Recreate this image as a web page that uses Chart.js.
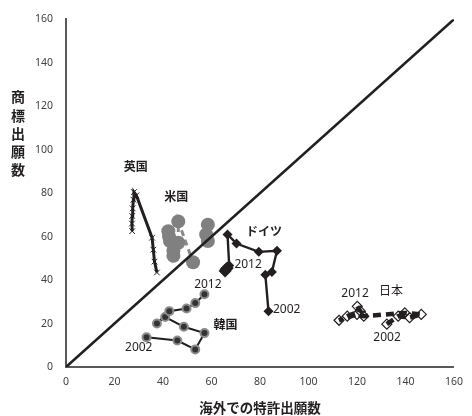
<!DOCTYPE html>
<html>
<head>
<meta charset="utf-8">
<script src="https://cdn.jsdelivr.net/npm/chart.js@4/dist/chart.umd.min.js"></script>
<style>
  html, body { margin: 0; padding: 0; background: #fff; }
  #wrap { width: 472px; height: 416px; }
</style>
</head>
<body>
<div id="wrap"><canvas id="c" width="472" height="416"></canvas></div>
<script>
// Foreign patent filings (x) vs trademark filings (y), 2002–2012
const years = ['2002','2003','2004','2005','2006','2007','2008','2009','2010','2011','2012'];

const ukX = [27.3, 27.2, 27.3, 27.5, 27.8, 28.0, 29.0, 35.5, 36.0, 36.5, 37.5];
const ukY = [62.5, 66.0, 69.5, 73.0, 77.0, 80.5, 79.0, 59.5, 54.0, 48.5, 43.5];

const usX = [42.2, 42.5, 42.9, 44.3, 44.3, 46.3, 46.3, 52.4, 58.5, 57.8, 58.5];
const usY = [62.5, 60.0, 58.0, 53.5, 51.2, 57.2, 67.0, 48.2, 58.0, 61.0, 65.5];

const deX = [83.5, 82.2, 84.9, 87.0, 79.5, 70.3, 66.6, 67.3, 66.5, 65.6, 66.0];
const deY = [25.7, 42.5, 43.7, 53.5, 53.0, 56.8, 61.0, 46.7, 45.5, 44.2, 45.0];

const jpX = [132.3, 137.0, 141.7, 146.5, 139.7, 122.8, 120.0, 112.6, 116.0, 121.4, 120.1];
const jpY = [19.7, 23.4, 22.7, 24.2, 24.9, 23.4, 24.2, 21.5, 23.4, 25.7, 27.9];

const krX = [33.2, 45.9, 53.3, 57.1, 48.6, 40.9, 37.5, 42.6, 49.7, 53.3, 57.1];
const krY = [13.7, 12.2, 8.1, 15.6, 18.5, 23.0, 20.0, 25.7, 26.9, 29.4, 33.5];

const refLine = [0, 160];
const axisTicks = [0, 20, 40, 60, 80, 100, 120, 140, 160];

const pts = (xs, ys) => xs.map((x, i) => ({ x, y: ys[i], year: years[i] }));

// Text annotations placed in data units
const notes = [
  { t: '英国', x: 28.8, y: 92.4, bold: true },
  { t: '米国', x: 45.5, y: 78.4, bold: true },
  { t: 'ドイツ', x: 81.6, y: 62.6, bold: true },
  { t: '日本', x: 134.0, y: 35.2, bold: false },
  { t: '韓国', x: 65.8, y: 19.8, bold: true },
  { t: '2012', x: 75.1, y: 47.3 },
  { t: '2002', x: 91.0, y: 26.6 },
  { t: '2012', x: 58.5, y: 37.9 },
  { t: '2002', x: 30.0, y: 9.0 },
  { t: '2012', x: 119.2, y: 33.8 },
  { t: '2002', x: 132.4, y: 13.5 }
];

const notesPlugin = {
  id: 'notes',
  afterDatasetsDraw(chart) {
    const { ctx, scales: { x, y } } = chart;
    ctx.save();
    ctx.textAlign = 'center';
    ctx.textBaseline = 'middle';
    ctx.fillStyle = '#231f20';
    notes.forEach(n => {
      const isYear = /^\d+$/.test(n.t);
      ctx.font = isYear ? '12px "Noto Sans", "Open Sans", sans-serif'
        : (n.bold ? 'bold 12px "Noto Sans CJK JP", sans-serif' : '12px "Noto Sans CJK JP", sans-serif');
      ctx.fillText(n.t, x.getPixelForValue(n.x), y.getPixelForValue(n.y));
    });
    ctx.restore();
  },
  afterDraw(chart) {
    // vertical stacked y-axis title
    const { ctx } = chart;
    const title = '商標出願数';
    ctx.save();
    ctx.font = 'bold 14px "Noto Sans CJK JP", sans-serif';
    ctx.fillStyle = '#231f20';
    ctx.textAlign = 'center';
    ctx.textBaseline = 'middle';
    const start = 97;
    const step = 18.2;
    [...title].forEach((ch, i) => ctx.fillText(ch, 18, start + i * step));
    ctx.restore();
  }
};

new Chart(document.getElementById('c'), {
  type: 'scatter',
  data: {
    datasets: [
      {
        label: 'ref',
        data: pts(refLine, refLine),
        showLine: true,
        borderColor: '#231f20',
        borderWidth: 2.6,
        pointRadius: 0
      },
      {
        label: 'ドイツ',
        data: pts(deX, deY),
        showLine: true,
        borderColor: '#231f20',
        borderWidth: 2.4,
        backgroundColor: '#231f20',
        pointStyle: 'rectRot',
        pointRadius: ctx => ctx.dataIndex >= 8 ? 6.5 : 5,
        pointBorderWidth: 0
      },
      {
        label: '英国',
        data: pts(ukX, ukY),
        showLine: true,
        borderColor: '#231f20',
        borderWidth: 3,
        pointStyle: 'crossRot',
        pointRadius: 4,
        pointBorderColor: '#231f20',
        pointBorderWidth: 1
      },
      {
        label: '日本',
        data: pts(jpX, jpY),
        showLine: true,
        borderColor: '#231f20',
        borderWidth: 4.5,
        borderDash: [8, 5],
        backgroundColor: 'rgba(255,255,255,0)',
        pointStyle: 'rectRot',
        pointRadius: 5,
        pointBorderColor: '#231f20',
        pointBorderWidth: 1.2
      },
      {
        label: '韓国',
        data: pts(krX, krY),
        showLine: true,
        borderColor: '#231f20',
        borderWidth: 2,
        backgroundColor: '#333333',
        pointStyle: 'circle',
        pointRadius: 4,
        pointBorderColor: '#8c8c8c',
        pointBorderWidth: 2
      },
      {
        label: '米国',
        data: pts(usX, usY),
        showLine: true,
        borderColor: '#8a8a8a',
        borderWidth: 3,
        borderDash: [6, 4],
        // the jump from the left cluster to the right cluster is not drawn
        segment: { borderColor: c => c.p0DataIndex === 7 ? 'rgba(0,0,0,0)' : undefined },
        backgroundColor: '#808080',
        pointStyle: 'circle',
        pointRadius: 7,
        pointBorderWidth: 0
      }
    ]
  },
  options: {
    responsive: false,
    animation: false,
    layout: { padding: { left: 0, right: 12, top: 12, bottom: 0 } },
    plugins: { legend: { display: false }, tooltip: { enabled: false } },
    scales: {
      x: {
        type: 'linear',
        min: 0, max: 160,
        afterBuildTicks: s => { s.ticks = axisTicks.map(v => ({ value: v })); },
        afterFit: s => { s.height = 49; },
        grid: { display: false, drawTicks: false },
        border: { display: true, color: '#595959', width: 2 },
        ticks: { padding: 9, color: '#404040', font: { family: '"Noto Sans", sans-serif', size: 10.5 } },
        title: {
          display: true,
          text: '海外での特許出願数',
          color: '#231f20',
          padding: { top: 6, bottom: 0 },
          font: { family: '"Noto Sans CJK JP", sans-serif', size: 13.5, weight: 'bold' }
        }
      },
      y: {
        type: 'linear',
        min: 0, max: 160,
        afterBuildTicks: s => { s.ticks = axisTicks.map(v => ({ value: v })); },
        afterFit: s => { s.width = 66; },
        grid: { display: false, drawTicks: false },
        border: { display: true, color: '#595959', width: 2 },
        ticks: { padding: 13, color: '#404040', font: { family: '"Noto Sans", sans-serif', size: 10.5 } }
      }
    }
  },
  plugins: [notesPlugin]
});
</script>
</body>
</html>
